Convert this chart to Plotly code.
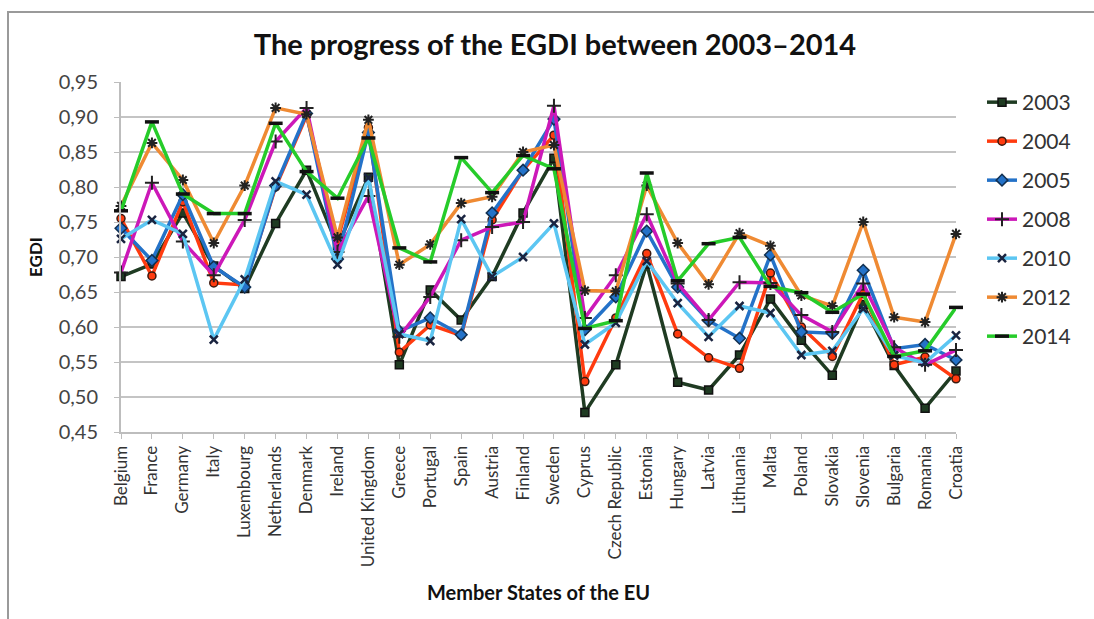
import plotly.graph_objects as go

countries = ["Belgium", "France", "Germany", "Italy", "Luxembourg", "Netherlands", "Denmark",
             "Ireland", "United Kingdom", "Greece", "Portugal", "Spain", "Austria", "Finland",
             "Sweden", "Cyprus", "Czech Republic", "Estonia", "Hungary", "Latvia", "Lithuania",
             "Malta", "Poland", "Slovakia", "Slovenia", "Bulgaria", "Romania", "Croatia"]

egdi_2003 = [0.672, 0.690, 0.763, 0.687, 0.655, 0.748, 0.824, 0.716, 0.814, 0.546, 0.653, 0.610,
             0.672, 0.763, 0.841, 0.478, 0.546, 0.690, 0.521, 0.510, 0.560, 0.640, 0.581, 0.531,
             0.632, 0.545, 0.484, 0.537]
egdi_2004 = [0.755, 0.673, 0.779, 0.663, 0.660, 0.800, 0.902, 0.723, 0.885, 0.564, 0.603, 0.588,
             0.753, 0.824, 0.874, 0.522, 0.613, 0.705, 0.590, 0.556, 0.541, 0.677, 0.600, 0.558,
             0.648, 0.546, 0.557, 0.526]
egdi_2005 = [0.741, 0.695, 0.789, 0.686, 0.657, 0.802, 0.905, 0.697, 0.878, 0.594, 0.613, 0.589,
             0.763, 0.824, 0.897, 0.596, 0.643, 0.737, 0.657, 0.609, 0.584, 0.703, 0.593, 0.591,
             0.681, 0.569, 0.575, 0.553]
egdi_2008 = [0.678, 0.806, 0.722, 0.674, 0.753, 0.865, 0.913, 0.707, 0.787, 0.586, 0.643, 0.724,
             0.743, 0.750, 0.916, 0.613, 0.674, 0.761, 0.662, 0.610, 0.664, 0.663, 0.617, 0.593,
             0.662, 0.571, 0.546, 0.567]
egdi_2010 = [0.726, 0.753, 0.733, 0.582, 0.668, 0.808, 0.789, 0.689, 0.813, 0.590, 0.580, 0.754,
             0.672, 0.700, 0.748, 0.575, 0.606, 0.694, 0.634, 0.586, 0.630, 0.620, 0.560, 0.566,
             0.626, 0.559, 0.549, 0.588]
egdi_2012 = [0.773, 0.863, 0.810, 0.720, 0.802, 0.913, 0.904, 0.728, 0.896, 0.689, 0.718, 0.777,
             0.786, 0.850, 0.860, 0.652, 0.651, 0.802, 0.720, 0.661, 0.734, 0.716, 0.645, 0.630,
             0.750, 0.614, 0.607, 0.733]
egdi_2014 = [0.766, 0.893, 0.790, 0.762, 0.762, 0.891, 0.822, 0.784, 0.870, 0.713, 0.693, 0.842,
             0.792, 0.845, 0.826, 0.598, 0.609, 0.820, 0.666, 0.719, 0.728, 0.658, 0.649, 0.621,
             0.647, 0.558, 0.566, 0.628]

years = ["2003", "2004", "2005", "2008", "2010", "2012", "2014"]
series = [egdi_2003, egdi_2004, egdi_2005, egdi_2008, egdi_2010, egdi_2012, egdi_2014]

line_colors = ["#1f3b22", "#ff3b0f", "#2472c8", "#cc18b8", "#5cc6f2", "#ef8a33", "#26cc2a"]
marker_styles = [
    dict(symbol="square", size=8, color="#1f3b22", line=dict(color="#111111", width=1.5)),
    dict(symbol="circle", size=8, color="#ff3b0f", line=dict(color="#3a1a10", width=1.5)),
    dict(symbol="diamond", size=9, color="#2472c8", line=dict(color="#123050", width=1.5)),
    dict(symbol="cross-thin-open", size=10, color="#222222", line=dict(color="#222222", width=2)),
    dict(symbol="x-thin-open", size=8, color="#1a2440", line=dict(color="#1a2440", width=2.5)),
    dict(symbol="asterisk-open", size=9, color="#222222", line=dict(color="#222222", width=2)),
    dict(symbol="line-ew-open", size=10, color="#111111", line=dict(color="#111111", width=3.5)),
]

x_idx = list(range(len(countries)))

fig = go.Figure()
for yr, vals, col, mk in zip(years, series, line_colors, marker_styles):
    fig.add_trace(go.Scatter(
        x=x_idx, y=vals, name=yr, mode="lines+markers",
        line=dict(color=col, width=3.5),
        marker=mk, cliponaxis=False, legendgroup=yr,
    ))

font_family = "Lato, 'Open Sans', sans-serif"

fig.update_layout(
    width=1094, height=619,
    margin=dict(l=121, r=138, t=82, b=187),
    paper_bgcolor="white", plot_bgcolor="white",
    separators=",.",
    font=dict(family=font_family, color="#333333"),
    title=dict(text="<b>The progress of the EGDI between 2003–2014</b>",
               x=555 / 1094, xanchor="center", y=1 - 45 / 619, yanchor="middle",
               font=dict(size=29, color="#111111")),
    showlegend=True,
    legend=dict(x=(982 - 121) / 835, xanchor="left", y=(432 - 82) / 350, yanchor="top",
                font=dict(size=21, color="#333333"), tracegroupgap=8.7,
                bgcolor="rgba(0,0,0,0)"),
    xaxis=dict(
        range=[0, len(countries) - 1],
        tickmode="array", tickvals=x_idx, ticktext=countries,
        tickangle=-90, tickfont=dict(size=17, color="#333333"),
        showgrid=False, zeroline=False,
        showline=True, linecolor="#bdbdbd", linewidth=2,
        ticks="outside", ticklen=5, tickcolor="#bdbdbd", tickwidth=1,
        title=dict(text="<b>Member States of the EU</b>", font=dict(size=20, color="#111111"),
                   standoff=20),
    ),
    yaxis=dict(
        range=[0.45, 0.95], dtick=0.05, tick0=0.45, tickformat=".2f",
        tickfont=dict(size=20, color="#444444"), ticklabelstandoff=12,
        showgrid=True, gridcolor="#c4c4c4", gridwidth=2,
        zeroline=False,
        showline=True, linecolor="#bdbdbd", linewidth=2,
        ticks="outside", ticklen=5, tickcolor="#bdbdbd",
        title=dict(text="<b>EGDI</b>", font=dict(size=17, color="#111111"), standoff=12),
    ),
)

# chart-area frame
fig.add_shape(type="rect", xref="paper", yref="paper",
              x0=(8 - 121) / 835, x1=(1110 - 121) / 835,
              y0=(432 - 640) / 350, y1=(432 - 12) / 350,
              line=dict(color="#9a9a9a", width=2), fillcolor="rgba(0,0,0,0)", layer="below")

fig.write_html("out.html")
